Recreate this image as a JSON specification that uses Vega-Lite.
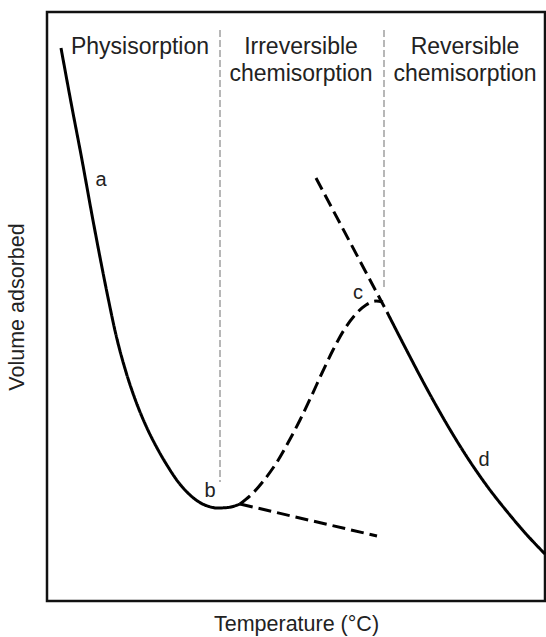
{
  "$schema": "https://vega.github.io/schema/vega-lite/v6.json",
  "width": 498,
  "height": 589,
  "autosize": "none",
  "padding": {"left": 47, "top": 12, "right": 1, "bottom": 36},
  "background": "white",
  "config": {
    "view": {"stroke": "#111", "strokeWidth": 2.5},
    "font": "Liberation Sans"
  },
  "datasets": {
    "curves": [
      {"series": "a", "style": "solid", "x": 14, "y": 553},
      {"series": "a", "style": "solid", "x": 24.5, "y": 496},
      {"series": "a", "style": "solid", "x": 35, "y": 441},
      {"series": "a", "style": "solid", "x": 45, "y": 386},
      {"series": "a", "style": "solid", "x": 54.5, "y": 336},
      {"series": "a", "style": "solid", "x": 61.5, "y": 301},
      {"series": "a", "style": "solid", "x": 69, "y": 266},
      {"series": "a", "style": "solid", "x": 79, "y": 229},
      {"series": "a", "style": "solid", "x": 89.5, "y": 198},
      {"series": "a", "style": "solid", "x": 99.5, "y": 174},
      {"series": "a", "style": "solid", "x": 109.5, "y": 154},
      {"series": "a", "style": "solid", "x": 120.5, "y": 135},
      {"series": "a", "style": "solid", "x": 132, "y": 118},
      {"series": "a", "style": "solid", "x": 142, "y": 107},
      {"series": "a", "style": "solid", "x": 152, "y": 99},
      {"series": "a", "style": "solid", "x": 162, "y": 94.5},
      {"series": "a", "style": "solid", "x": 170, "y": 93},
      {"series": "a", "style": "solid", "x": 181, "y": 93.5},
      {"series": "a", "style": "solid", "x": 193, "y": 97},
      {"series": "rise", "style": "dashed", "x": 193, "y": 97},
      {"series": "rise", "style": "dashed", "x": 206, "y": 108},
      {"series": "rise", "style": "dashed", "x": 218, "y": 122},
      {"series": "rise", "style": "dashed", "x": 230, "y": 139},
      {"series": "rise", "style": "dashed", "x": 242, "y": 160},
      {"series": "rise", "style": "dashed", "x": 253, "y": 181},
      {"series": "rise", "style": "dashed", "x": 264, "y": 204},
      {"series": "rise", "style": "dashed", "x": 275, "y": 228},
      {"series": "rise", "style": "dashed", "x": 286, "y": 251},
      {"series": "rise", "style": "dashed", "x": 297, "y": 271},
      {"series": "rise", "style": "dashed", "x": 308, "y": 286},
      {"series": "rise", "style": "dashed", "x": 319, "y": 296},
      {"series": "rise", "style": "dashed", "x": 329, "y": 300},
      {"series": "rise", "style": "dashed", "x": 336, "y": 299},
      {"series": "fall", "style": "dashed", "x": 193, "y": 97},
      {"series": "fall", "style": "dashed", "x": 330, "y": 65},
      {"series": "upper", "style": "dashed", "x": 269, "y": 423},
      {"series": "upper", "style": "dashed", "x": 340, "y": 289},
      {"series": "d", "style": "solid", "x": 340, "y": 289},
      {"series": "d", "style": "solid", "x": 360, "y": 250},
      {"series": "d", "style": "solid", "x": 380, "y": 212},
      {"series": "d", "style": "solid", "x": 400, "y": 176.5},
      {"series": "d", "style": "solid", "x": 420, "y": 144},
      {"series": "d", "style": "solid", "x": 440, "y": 115},
      {"series": "d", "style": "solid", "x": 460, "y": 89.5},
      {"series": "d", "style": "solid", "x": 480, "y": 66},
      {"series": "d", "style": "solid", "x": 498, "y": 47}
    ],
    "dividers": [
      {"x": 173, "y_top": 571, "y_bottom": 119},
      {"x": 337, "y_top": 571, "y_bottom": 313}
    ],
    "points": [
      {"label": "a", "x": 54, "y": 421},
      {"label": "b", "x": 163, "y": 110},
      {"label": "c", "x": 311, "y": 308},
      {"label": "d", "x": 437, "y": 141}
    ],
    "regions": [
      {"line1": "Physisorption", "line2": "", "x": 93},
      {"line1": "Irreversible", "line2": "chemisorption", "x": 254},
      {"line1": "Reversible", "line2": "chemisorption", "x": 418}
    ]
  },
  "encoding": {
    "x": {
      "type": "quantitative",
      "scale": {"domain": [0, 498], "nice": false, "zero": false},
      "axis": {
        "title": "Temperature (°C)",
        "domain": false, "ticks": false, "labels": false, "grid": false,
        "titleFontSize": 21.5, "titleFontWeight": "normal", "titleColor": "#222",
        "titlePadding": 12, "titleFont": "Liberation Sans"
      }
    },
    "y": {
      "type": "quantitative",
      "scale": {"domain": [0, 589], "nice": false, "zero": false},
      "axis": {
        "title": "Volume adsorbed",
        "domain": false, "ticks": false, "labels": false, "grid": false,
        "titleFontSize": 21.5, "titleFontWeight": "normal", "titleColor": "#222",
        "titlePadding": 19, "titleFont": "Liberation Sans"
      }
    }
  },
  "layer": [
    {
      "data": {"name": "dividers"},
      "mark": {"type": "rule", "color": "#a0a0a0", "strokeWidth": 1.5, "strokeDash": [7, 3]},
      "encoding": {
        "x": {"field": "x"},
        "y": {"field": "y_top"},
        "y2": {"field": "y_bottom"}
      }
    },
    {
      "data": {"name": "curves"},
      "mark": {"type": "line", "color": "#000", "strokeWidth": 3, "interpolate": "monotone"},
      "encoding": {
        "x": {"field": "x"},
        "y": {"field": "y"},
        "detail": {"field": "series", "type": "nominal"},
        "strokeDash": {
          "field": "style", "type": "nominal",
          "scale": {"domain": ["solid", "dashed"], "range": [[1, 0], [13, 6]]},
          "legend": null
        }
      }
    },
    {
      "data": {"name": "points"},
      "mark": {"type": "text", "fontSize": 20, "color": "#222", "font": "Liberation Sans", "baseline": "middle", "align": "center"},
      "encoding": {
        "x": {"field": "x"},
        "y": {"field": "y"},
        "text": {"field": "label"}
      }
    },
    {
      "data": {"name": "regions"},
      "mark": {"type": "text", "fontSize": 23, "color": "#222", "font": "Liberation Sans", "baseline": "middle", "align": "center"},
      "encoding": {
        "x": {"field": "x"},
        "y": {"datum": 554},
        "text": {"field": "line1"}
      }
    },
    {
      "data": {"name": "regions"},
      "mark": {"type": "text", "fontSize": 23, "color": "#222", "font": "Liberation Sans", "baseline": "middle", "align": "center"},
      "encoding": {
        "x": {"field": "x"},
        "y": {"datum": 527},
        "text": {"field": "line2"}
      }
    }
  ]
}
